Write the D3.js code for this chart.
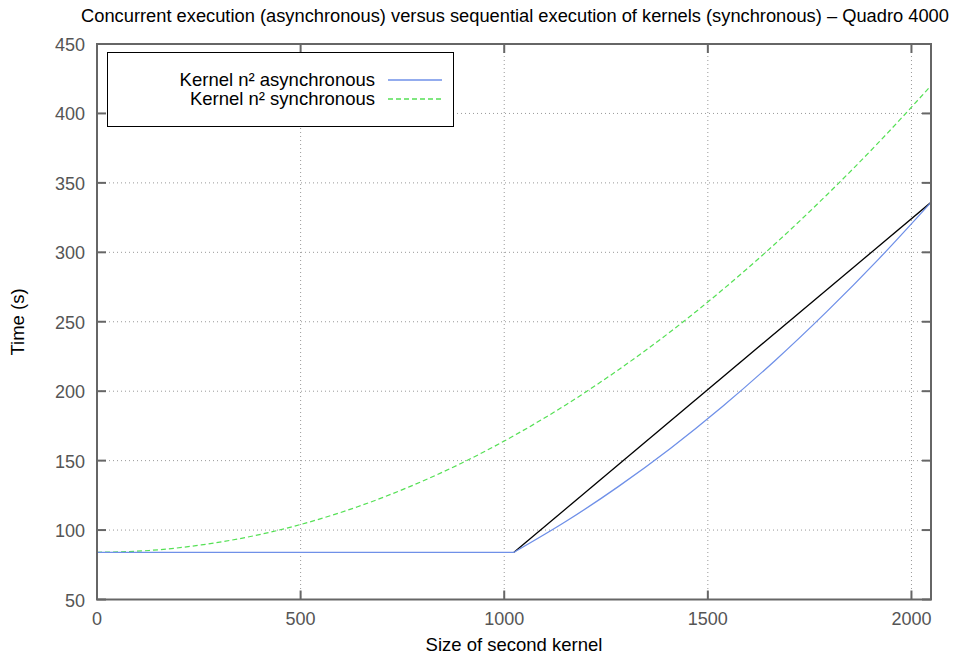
<!DOCTYPE html>
<html><head><meta charset="utf-8">
<script src="https://cdn.jsdelivr.net/npm/d3@7"></script>
<style>
body{margin:0;background:#fff;}
text{font-family:"Liberation Sans",Arial,Helvetica,sans-serif;}
</style></head>
<body><svg id="c" width="960" height="657"></svg>
<script>
const sizes = [0,128,256,384,512,640,768,896,1024,1152,1280,1408,1536,1664,1792,1920,2048];
const asyncSizes = [1024,1152,1280,1408,1536,1664,1792,1920,2048];
const asyncFlat = [84,84];
const asyncFlatSizes = [0,1024];
const asyncTimes = [84,106.3,131.3,158.8,189,221.8,257.3,295.3,336];
const syncTimes = [84,85.3,89.3,95.8,105,116.8,131.3,148.3,168,190.3,215.3,242.8,273,305.8,341.3,379.3,420];
const refSizes = [1024,2048];
const refTimes = [84,336];
const xTicks = [0,500,1000,1500,2000];
const yTicks = [50,100,150,200,250,300,350,400,450];
const seriesNames = ["Kernel n² asynchronous","Kernel n² synchronous"];
const titleText = "Concurrent execution (asynchronous) versus sequential execution of kernels (synchronous) \u2013 Quadro 4000";

const svg = d3.select("#c");
const L=97, R=931, T=44, B=599.5;
const x = d3.scaleLinear().domain([0,2048]).range([L,R]);
const y = d3.scaleLinear().domain([50,450]).range([B,T]);
const grey="#666", tickCol="#555";

// grid
const g = svg.append("g");
g.selectAll("line.gx").data(xTicks.filter(d=>d>0)).join("line")
 .attr("x1",d=>x(d)).attr("x2",d=>x(d)).attr("y1",T).attr("y2",B)
 .attr("stroke","#999").attr("stroke-width",1).attr("stroke-dasharray","1,3");
g.selectAll("line.gy").data(yTicks.filter(d=>d>50&&d<450)).join("line")
 .attr("x1",L).attr("x2",R).attr("y1",d=>y(d)).attr("y2",d=>y(d))
 .attr("stroke","#999").attr("stroke-width",1).attr("stroke-dasharray","1,3");

// ticks (inward, all sides)
const tk=9;
xTicks.forEach(d=>{
  g.append("line").attr("x1",x(d)).attr("x2",x(d)).attr("y1",B).attr("y2",B-tk).attr("stroke",grey).attr("stroke-width",2);
  g.append("line").attr("x1",x(d)).attr("x2",x(d)).attr("y1",T).attr("y2",T+tk).attr("stroke",grey).attr("stroke-width",2);
});
yTicks.forEach(d=>{
  g.append("line").attr("x1",L).attr("x2",L+tk).attr("y1",y(d)).attr("y2",y(d)).attr("stroke",grey).attr("stroke-width",2);
  g.append("line").attr("x1",R).attr("x2",R-tk).attr("y1",y(d)).attr("y2",y(d)).attr("stroke",grey).attr("stroke-width",2);
});

// tick labels
svg.selectAll("text.xt").data(xTicks).join("text")
 .attr("x",d=>x(d)).attr("y",625).attr("text-anchor","middle")
 .attr("font-size",18).attr("fill",tickCol).text(d=>d);
svg.selectAll("text.yt").data(yTicks).join("text")
 .attr("x",85).attr("y",d=>y(d)+7).attr("text-anchor","end")
 .attr("font-size",18).attr("fill",tickCol).text(d=>d);

// lines
const line = d3.line().x(d=>x(d[0])).y(d=>y(d[1]));
const curve = d3.line().x(d=>x(d[0])).y(d=>y(d[1])).curve(d3.curveMonotoneX);
svg.append("clipPath").attr("id","pc").append("rect").attr("x",L).attr("y",T).attr("width",R-L).attr("height",B-T);
const pg = svg.append("g").attr("clip-path","url(#pc)");
pg.append("path").datum(d3.zip(sizes,syncTimes)).attr("d",curve)
 .attr("fill","none").attr("stroke","#55e055").attr("stroke-width",1.2).attr("stroke-dasharray","5,3");
pg.append("path").datum(d3.zip(refSizes,refTimes)).attr("d",line)
 .attr("fill","none").attr("stroke","#000").attr("stroke-width",1.3);
const blue = line(d3.zip(asyncFlatSizes,asyncFlat)) + curve(d3.zip(asyncSizes,asyncTimes)).replace(/^M/,"L");
pg.append("path").attr("d",blue)
 .attr("fill","none").attr("stroke","#6f90e8").attr("stroke-width",1.3);

// border
svg.append("rect").attr("x",L).attr("y",T).attr("width",R-L).attr("height",B-T)
 .attr("fill","none").attr("stroke",grey).attr("stroke-width",2);

// legend
const lg = svg.append("g");
lg.append("rect").attr("x",107.5).attr("y",52.5).attr("width",346).attr("height",74)
 .attr("fill","#fff").attr("stroke","#000").attr("stroke-width",1);
const lcol=["#6f90e8","#55e055"], ldash=[null,"5,3"];
seriesNames.forEach((n,i)=>{
  const yy = 80 + i*19;
  lg.append("text").attr("x",375).attr("y",yy+6).attr("text-anchor","end")
   .attr("font-size",18.5).attr("fill","#000").text(n);
  lg.append("line").attr("x1",388).attr("x2",442).attr("y1",yy).attr("y2",yy)
   .attr("stroke",lcol[i]).attr("stroke-width",1.3).attr("stroke-dasharray",ldash[i]);
});

// titles
svg.append("text").attr("x",515).attr("y",22).attr("text-anchor","middle")
 .attr("font-size",18.3).attr("fill","#000").text(titleText);
svg.append("text").attr("x",514).attr("y",651).attr("text-anchor","middle")
 .attr("font-size",18.5).attr("fill","#000").text("Size of second kernel");
svg.append("text").attr("transform","translate(24,322) rotate(-90)").attr("text-anchor","middle")
 .attr("font-size",18.5).attr("fill","#000").text("Time (s)");
</script></body></html>
